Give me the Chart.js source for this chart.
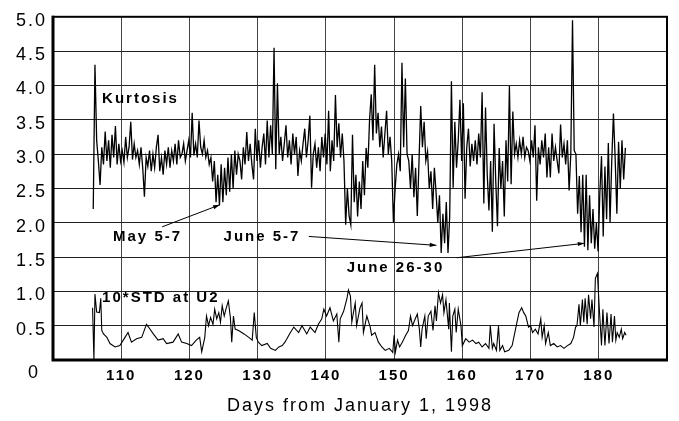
<!DOCTYPE html>
<html><head><meta charset="utf-8">
<script src="https://cdn.jsdelivr.net/npm/chart.js@4"></script>
<style>html,body{margin:0;padding:0;background:#fff;}#wrap{width:679px;height:421px;position:relative;}</style>
</head><body><div id="wrap"><canvas id="c" width="679" height="421"></canvas></div>
<script>
// ---- data ----
const xTickDays = [110, 120, 130, 140, 150, 160, 170, 180];
const yTickValues = [0, 0.5, 1.0, 1.5, 2.0, 2.5, 3.0, 3.5, 4.0, 4.5, 5.0];
const xAxisTitle = 'Days from January 1, 1998';

// Kurtosis, sampled every 0.25 day starting at day 105.9
const kurtStartDay = 105.9;
const kurtStepDays = 0.25;
const kurtValues = [
  2.2, 4.3, 3.2, 2.9,   2.55, 3.1, 2.85, 3.33,   2.9, 3.2, 2.8, 3.28,   2.95, 3.41, 2.85, 3.15,
  2.9, 3.05, 2.88, 3.25,   2.95, 3.1, 3.47, 2.92,   3.15, 2.95, 3.05, 2.85,   3.1, 2.8, 2.38, 2.95,
  2.82, 3.05, 2.75, 3.0,   2.8, 3.1, 3.28, 2.75,   2.95, 2.7, 3.05, 2.85,   3.1, 2.8, 3.05, 2.9,
  3.15, 2.85, 3.2, 2.95,   3.0, 3.15, 2.9, 3.05,   3.2, 2.95, 3.6, 2.98,   3.15, 2.95, 3.49, 3.1,
  3.0, 3.2, 2.95, 3.05,   2.85, 2.95, 2.6, 2.9,   2.3, 2.7, 2.25, 2.85,   2.3, 2.8, 2.4, 2.95,
  2.45, 3.0, 2.5, 3.05,   2.7, 3.0, 2.9, 2.63,   3.1, 2.85, 3.32, 2.9,   3.15, 2.85, 2.63, 3.37,
  2.9, 3.2, 2.8, 3.1,   3.3, 2.85, 3.49, 2.95,   3.42, 3.0, 4.55, 2.78,   4.03, 3.0, 3.25, 2.9,
  3.15, 3.42, 2.95, 3.2,   2.85, 3.3, 3.0, 3.25,   2.68, 3.05, 2.9, 3.15,   3.37, 2.95, 3.2, 3.56,
  2.51, 3.0, 3.15, 2.8,   3.1, 2.75, 3.25, 2.95,   3.3, 2.85, 3.63, 2.75,   3.2, 2.9, 3.86, 3.1,
  3.45, 2.95, 3.3, 2.9,   1.97, 2.5, 2.1, 1.97,   3.28, 2.3, 2.7, 2.09,   2.6, 2.2, 2.9, 2.4,
  3.09, 2.8, 3.5, 3.87,   3.2, 4.3, 3.3, 3.6,   3.1, 3.4, 2.95, 3.3,   3.63, 3.0, 3.25, 2.9,
  2.0, 2.5, 2.85, 3.0,   2.75, 4.33, 3.1, 4.1,   3.0, 2.9, 2.5, 3.0,   2.37, 2.8, 2.1, 2.9,
  3.7, 3.1, 3.47, 2.9,   3.04, 2.5, 2.75, 2.2,   2.8, 2.44, 2.0, 2.4,   1.56, 2.13, 1.7, 2.3,
  1.56, 2.1, 4.06, 2.51,   3.47, 2.8, 3.2, 3.79,   2.9, 3.74, 2.35, 3.1,   3.37, 2.82, 3.15, 2.9,
  3.2, 2.85, 3.3, 2.95,   3.9, 2.28, 3.68, 2.7,   2.18, 2.9, 1.87, 3.44,   2.6, 1.95, 3.09, 2.5,
  2.9, 2.09, 3.2, 2.6,   3.99, 2.56, 3.62, 3.0,   3.15, 2.95, 3.2, 3.0,   3.25, 2.95, 3.1, 3.05,
  2.9, 3.2, 2.95, 3.42,   2.32, 3.1, 2.85, 3.2,   2.95, 3.3, 2.66, 3.1,   2.66, 3.3, 2.9, 3.1,
  2.9, 2.72, 3.43, 2.95,   3.15, 2.85, 3.2, 2.47,   3.0, 4.95, 3.05, 3.0,   2.13, 2.68, 1.86, 2.7,
  1.65, 2.7, 1.6, 2.4,   1.7, 2.2, 1.62, 2.0,   1.58, 2.42, 2.97, 1.8,   2.82, 2.05, 3.16, 2.0,
  2.9, 3.59, 2.94, 2.13,   3.18, 2.49, 3.2, 2.63,   3.09
];

// 10*STD at U2: [day, value]
const stdSeries = [
  [105.8,0.76],[106.0,0.0],[106.15,0.96],[106.4,0.70],[106.8,0.69],[107.0,0.90],[107.15,0.43],[107.4,0.38],
  [107.9,0.33],[108.35,0.24],[109.1,0.19],[109.8,0.21],[110.55,0.33],[111.0,0.40],[111.5,0.26],[112.25,0.31],
  [113.0,0.33],[113.7,0.52],[114.0,0.48],[114.7,0.38],[115.4,0.29],[116.15,0.31],[116.65,0.24],[117.6,0.26],
  [118.35,0.38],[118.85,0.26],[119.6,0.24],[120.3,0.21],[121.0,0.29],[121.5,0.33],[121.8,0.12],[122.25,0.33],
  [122.5,0.64],[122.8,0.50],[123.1,0.62],[123.45,0.52],[123.7,0.74],[124.0,0.60],[124.3,0.69],[124.55,0.55],
  [124.8,0.79],[125.1,0.64],[125.35,0.74],[125.7,0.86],[126.0,0.62],[126.2,0.26],[126.45,0.64],[126.7,0.45],
  [127.2,0.43],[128.0,0.38],[128.7,0.33],[129.2,0.29],[129.5,0.69],[129.8,0.33],[130.1,0.26],[130.6,0.21],
  [131.4,0.24],[131.9,0.17],[132.6,0.14],[133.1,0.19],[133.6,0.21],[134.0,0.26],[134.8,0.40],[135.3,0.48],
  [136.0,0.40],[136.5,0.50],[137.2,0.38],[137.7,0.48],[138.4,0.40],[138.9,0.52],[139.4,0.60],[139.7,0.74],
  [140.1,0.64],[140.6,0.76],[141.1,0.57],[141.6,0.67],[141.9,0.26],[142.1,0.60],[142.6,0.71],[143.1,0.90],
  [143.3,1.02],[143.6,0.93],[143.8,0.55],[144.0,0.67],[144.3,0.83],[144.5,0.50],[145.0,0.76],[145.3,0.83],
  [145.5,0.40],[146.0,0.64],[146.5,0.48],[146.7,0.36],[147.2,0.40],[147.7,0.26],[148.2,0.19],[148.7,0.14],
  [149.3,0.17],[149.8,0.11],[150.0,0.36],[150.2,0.12],[150.5,0.29],[150.8,0.19],[151.2,0.26],[151.7,0.36],
  [152.1,0.43],[152.4,0.64],[152.7,0.50],[153.1,0.60],[153.4,0.67],[153.7,0.45],[153.9,0.19],[154.1,0.45],
  [154.5,0.64],[154.7,0.31],[155.0,0.64],[155.4,0.71],[155.7,0.43],[156.0,0.79],[156.2,0.57],[156.5,0.98],
  [156.8,0.83],[157.1,0.95],[157.3,0.69],[157.6,0.88],[158.0,0.45],[158.1,0.83],[158.4,0.12],[158.6,0.64],
  [158.9,0.74],[159.1,0.40],[159.4,0.74],[159.8,0.50],[160.0,0.21],[160.5,0.31],[161.0,0.26],[161.5,0.29],
  [162.0,0.24],[162.4,0.26],[162.9,0.19],[163.4,0.24],[163.9,0.17],[164.1,0.50],[164.4,0.17],[164.6,0.24],
  [165.0,0.14],[165.3,0.50],[165.5,0.14],[165.9,0.21],[166.2,0.12],[166.8,0.14],[167.3,0.21],[167.8,0.45],
  [168.3,0.69],[168.7,0.76],[169.0,0.69],[169.3,0.64],[169.7,0.48],[170.0,0.50],[170.3,0.40],[170.7,0.45],
  [171.1,0.38],[171.5,0.60],[171.7,0.33],[172.0,0.50],[172.2,0.24],[172.6,0.40],[172.9,0.21],[173.4,0.24],
  [173.9,0.19],[174.4,0.21],[174.9,0.17],[175.4,0.21],[175.9,0.24],[176.3,0.33],[176.6,0.48],[176.8,0.50],
  [177.1,0.81],[177.3,0.50],[177.6,0.88],[177.8,0.55],[178.0,0.90],[178.3,0.52],[178.5,0.95],[178.8,0.60],
  [179.0,0.88],[179.3,0.48],[179.5,1.19],[179.8,1.26],[179.9,1.07],[180.1,0.71],[180.4,0.21],[180.6,0.74],
  [180.9,0.21],[181.2,0.69],[181.5,0.24],[181.8,0.67],[182.0,0.26],[182.3,0.64],[182.5,0.29],[182.7,0.40],
  [183.0,0.33],[183.3,0.45],[183.5,0.31],[183.8,0.40],[184.0,0.36]
];

// annotation texts (anchored in data units)
const noteTexts = ['Kurtosis', '10*STD at U2', 'May 5-7', 'June 5-7', 'June 26-30'];
const noteAnchors = [[107.2, 3.80], [107.2, 0.9], [108.8, 1.8], [125.0, 1.8], [143.05, 1.34]];
const pointerLines = [
  [[116.0, 1.94], [124.45, 2.26]],
  [[137.5, 1.80], [156.2, 1.67]],
  [[159.2, 1.49], [177.9, 1.70]]
];

// ---- chart ----
const FONT = '"Liberation Sans", Arial, sans-serif';
const kurtData = kurtValues.map((v, i) => ({ x: +(kurtStartDay + i * kurtStepDays).toFixed(2), y: v }));
const stdData = stdSeries.map(([d, v]) => ({ x: d, y: v }));

const decor = {
  id: 'decor',
  beforeDraw(chart) { chart.ctx.letterSpacing = '2px'; },
  afterDraw(chart) {
    const { ctx, chartArea: ca } = chart;
    const xs = chart.scales.x, ys = chart.scales.y;
    ctx.save();
    // frame
    ctx.strokeStyle = '#000';
    ctx.lineWidth = 2;
    ctx.strokeRect(ca.left, ca.top, ca.right - ca.left, ca.bottom - ca.top);
    ctx.lineWidth = 3;
    ctx.beginPath();
    ctx.moveTo(ca.left, ca.top - 1); ctx.lineTo(ca.left, ca.bottom);
    ctx.lineTo(ca.right + 1, ca.bottom);
    ctx.stroke();
    // origin label
    ctx.fillStyle = '#000';
    ctx.font = '18px ' + FONT;
    ctx.textAlign = 'center';
    ctx.textBaseline = 'middle';
    ctx.letterSpacing = '0px';
    ctx.fillText('0', ca.left - 20, ys.getPixelForValue(0) + 13);
    // notes
    ctx.font = 'bold 15px ' + FONT;
    ctx.letterSpacing = '2px';
    ctx.textAlign = 'left';
    noteTexts.forEach((t, i) => {
      const [d, v] = noteAnchors[i];
      ctx.fillText(t, xs.getPixelForValue(d), ys.getPixelForValue(v));
    });
    // pointer lines with small heads
    ctx.lineWidth = 1;
    pointerLines.forEach(([a, b]) => {
      const x1 = xs.getPixelForValue(a[0]), y1 = ys.getPixelForValue(a[1]);
      const x2 = xs.getPixelForValue(b[0]), y2 = ys.getPixelForValue(b[1]);
      ctx.beginPath(); ctx.moveTo(x1, y1); ctx.lineTo(x2, y2); ctx.stroke();
      const ang = Math.atan2(y2 - y1, x2 - x1), L = 7, W = 0.3;
      ctx.beginPath();
      ctx.moveTo(x2, y2);
      ctx.lineTo(x2 - L * Math.cos(ang - W), y2 - L * Math.sin(ang - W));
      ctx.lineTo(x2 - L * Math.cos(ang + W), y2 - L * Math.sin(ang + W));
      ctx.closePath(); ctx.fill();
    });
    ctx.restore();
    ctx.letterSpacing = '0px';
  }
};

new Chart(document.getElementById('c').getContext('2d'), {
  type: 'line',
  data: {
    datasets: [
      { label: 'Kurtosis', data: kurtData, borderColor: '#000', borderWidth: 1.3, pointRadius: 0, tension: 0, fill: false },
      { label: '10*STD at U2', data: stdData, borderColor: '#000', borderWidth: 1.1, pointRadius: 0, tension: 0, fill: false }
    ]
  },
  options: {
    responsive: false,
    animation: false,
    devicePixelRatio: 1,
    layout: { padding: { top: 10, right: 12, left: 0, bottom: 0 } },
    plugins: { legend: { display: false }, tooltip: { enabled: false } },
    scales: {
      x: {
        type: 'linear', min: 100, max: 190,
        afterBuildTicks: s => { s.ticks = xTickDays.map(v => ({ value: v })); },
        afterFit: s => { s.height = 61; },
        grid: { color: '#444', lineWidth: 1, drawTicks: false },
        border: { display: false },
        ticks: { padding: 7, color: '#000', autoSkip: false, maxRotation: 0,
                 font: { family: FONT, size: 15, weight: 'bold' }, callback: v => String(v) },
        title: { display: true, text: xAxisTitle, color: '#000',
                 font: { family: FONT, size: 18 }, padding: { top: 0, bottom: 4 } }
      },
      y: {
        type: 'linear', min: 0, max: 5,
        afterBuildTicks: s => { s.ticks = yTickValues.map(v => ({ value: v })); },
        afterFit: s => { s.width = 53; },
        grid: { color: '#222', lineWidth: 1, drawTicks: false },
        border: { display: false },
        ticks: { padding: 6, labelOffset: 4, color: '#000',
                 font: { family: FONT, size: 18 }, callback: v => (v === 0 ? '' : v.toFixed(1)) }
      }
    }
  },
  plugins: [decor]
});
</script>
</body></html>
